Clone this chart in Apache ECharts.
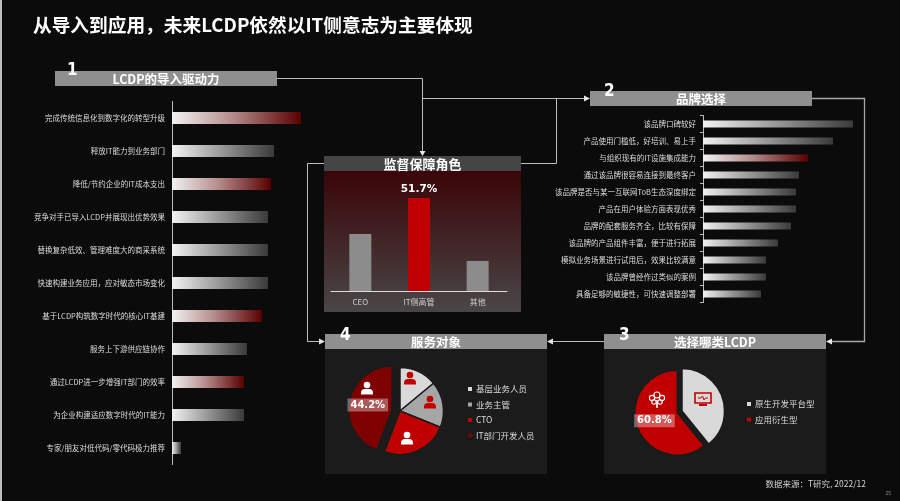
<!DOCTYPE html>
<html><head><meta charset="utf-8">
<script src="https://cdn.jsdelivr.net/npm/echarts@6/dist/echarts.min.js"></script>
<style>html,body{margin:0;padding:0;background:#0b0b0b;}#c{width:900px;height:501px;}</style>
</head><body><div id="c"></div>
<script>
const pageTitle = '从导入到应用，未来LCDP依然以IT侧意志为主要体现';
const sourceText = '数据来源：T研究, 2022/12';

const driverCats = ['完成传统信息化到数字化的转型升级','释放IT能力到业务部门','降低/节约企业的IT成本支出','竞争对手已导入LCDP并展现出优势效果','替换复杂低效、管理难度大的商采系统','快速构建业务应用，应对敏态市场变化','基于LCDP构筑数字时代的核心IT基建','服务上下游供应链协作','通过LCDP进一步增强IT部门的效率','为企业构建适应数字时代的IT能力','专家/朋友对低代码/零代码极力推荐'];
const driverValues = [64.5, 51, 49.5, 48, 48, 48, 45, 37.5, 36, 36, 4.5];
const driverHighlight = [0, 2, 6, 8];

const brandCats = ['该品牌口碑较好','产品使用门槛低，好培训、易上手','与组织现有的IT设施集成能力','通过该品牌很容易连接到最终客户','该品牌是否与某一互联网ToB生态深度绑定','产品在用户体验方面表现优秀','品牌的配套服务齐全，比较有保障','该品牌的产品组件丰富，便于进行拓展','模拟业务场景进行试用后，效果比较满意','该品牌曾经作过类似的案例','具备足够的敏捷性，可快速调整部署'];
const brandValues = [75, 65, 52.5, 48, 46.5, 46.5, 44, 37.5, 31.5, 31.5, 29];
const brandHighlight = [2];

const roleCats = ['CEO','IT侧高管','其他'];
const roleValues = [31.6, 51.7, 16.7];

const audienceNames = ['基层业务人员','业务主管','CTO','IT部门开发人员'];
const audienceValues = [14.0, 17.1, 24.7, 44.2];

const typeNames = ['原生开发平台型','应用衍生型'];
const typeValues = [39.2, 60.8];

const headers = ['LCDP的导入驱动力','品牌选择','选择哪类LCDP','服务对象','监督保障角色'];

const FONT = '"Noto Sans CJK SC","Microsoft YaHei",sans-serif';
const chart = echarts.init(document.getElementById('c'), null, {renderer:'canvas'});

function grad(red){
  return {type:'linear',x:0,y:0,x2:1,y2:0,colorStops: red ?
    [{offset:0,color:'#f2f2f2'},{offset:0.45,color:'#b89090'},{offset:1,color:'#5a0000'}] :
    [{offset:0,color:'#f2f2f2'},{offset:1,color:'#3a3a3a'}]};
}
function barData(vals, hl){
  return vals.map((v,i)=>({value:v,itemStyle:{color:grad(hl.includes(i))}}));
}

const G = [];
G.push({type:'rect',shape:{x:0,y:0,width:2,height:501},style:{fill:'#bdbdbd'}});
G.push({type:'text',x:33,y:25,style:{text:pageTitle,fill:'#fff',font:'bold 18.7px '+FONT,verticalAlign:'middle'}});
G.push({type:'rect',shape:{x:324,y:171,width:197,height:141},style:{fill:{type:'linear',x:0,y:0,x2:0,y2:1,colorStops:[{offset:0,color:'#3a0508'},{offset:1,color:'#4a4646'}]}}});
G.push({type:'rect',shape:{x:325,y:349,width:222,height:125},style:{fill:'#1b1b1b'}});
G.push({type:'rect',shape:{x:604,y:349,width:222,height:125},style:{fill:'#1b1b1b'}});
function header(x,y,w,text,fill,size){
  G.push({type:'rect',shape:{x:x,y:y,width:w,height:15},style:{fill:fill}});
  G.push({type:'text',x:x+w/2,y:y+8,style:{text:text,fill:'#fff',font:'bold '+size+'px '+FONT,align:'center',verticalAlign:'middle'}});
}
header(55,71,222,headers[0],'#8f8f8f',12.5);
header(590,91,222,headers[1],'#8f8f8f',12.5);
header(604,334,222,headers[2],'#8f8f8f',12.5);
header(325,334,222,headers[3],'#8f8f8f',12.5);
header(324,156,197,headers[4],'#454545',13);
function num(x,y,t){G.push({type:'text',x:x,y:y,z:10,style:{text:t,fill:'#fff',font:'bold 17px "Liberation Sans Narrow","DejaVu Sans Condensed",sans-serif',verticalAlign:'top'}});}
num(67,62,'1'); num(604,83,'2'); num(619,327,'3'); num(340,327,'4');
const LS = {stroke:'#bdbdbd',lineWidth:1,fill:null};
function pl(pts){G.push({type:'polyline',shape:{points:pts},style:LS});}
function arrow(pts){G.push({type:'polygon',shape:{points:pts},style:{fill:'#e6e6e6'}});}
pl([[277,78.5],[422.5,78.5],[422.5,151]]); arrow([[419.5,151],[425.5,151],[422.5,156]]);
pl([[422.5,98.5],[585,98.5]]); arrow([[584,95.5],[584,101.5],[590,98.5]]);
pl([[556.5,98.5],[556.5,163.5],[521,163.5]]);
pl([[324,163.5],[307.5,163.5],[307.5,341.5],[320,341.5]]); arrow([[319,338.5],[319,344.5],[325,341.5]]);
G.push({type:'polyline',shape:{points:[[812,98.5],[864.5,98.5],[864.5,341.5],[832,341.5]]},style:{stroke:'#a8a8a8',lineWidth:1.3,fill:null}});
arrow([[832,338.5],[832,344.5],[826,341.5]]);
pl([[604,341.5],[553,341.5]]); arrow([[553,338.5],[553,344.5],[547,341.5]]);
function person(cx,cy,color){
  G.push({type:'circle',z:100,shape:{cx:cx,cy:cy-3,r:3.3},style:{fill:color}});
  G.push({type:'rect',z:100,shape:{x:cx-6,y:cy+1,width:12,height:5.5,r:[4,4,0,0]},style:{fill:color}});
}
person(410,378,'#c00000'); person(430,402,'#c00000'); person(407,438,'#ffffff'); person(367,388,'#ffffff');
G.push({type:'rect',z:100,shape:{x:695,y:393,width:16,height:10},style:{fill:null,stroke:'#c00000',lineWidth:1.6}});
G.push({type:'polyline',z:100,shape:{points:[[698,398],[701,398],[702.5,396],[704,400],[705.5,398],[708,398]]},style:{fill:null,stroke:'#c00000',lineWidth:1}});
G.push({type:'rect',z:100,shape:{x:699,y:404,width:8,height:2},style:{fill:'#c00000'}});
[[657,395,3],[652,398,2.6],[662,398,2.6],[654,402,2.2],[660,402,2.2]].forEach(c=>G.push({type:'circle',z:100,shape:{cx:c[0],cy:c[1],r:c[2]},style:{fill:null,stroke:'#fff',lineWidth:1.1}}));
G.push({type:'rect',z:100,shape:{x:656.2,y:400,width:1.6,height:8},style:{fill:'#fff'}});
G.push({type:'text',x:866,y:484,style:{text:sourceText,fill:'#d0d0d0',font:'8.5px '+FONT,align:'right',verticalAlign:'middle'}});
G.push({type:'text',x:891,y:494,style:{text:'25',fill:'#888',font:'5px sans-serif',align:'right',verticalAlign:'middle'}});

const pieLabel = {show:true,position:'inside',formatter:p=>p.value+'%',color:'#fff',fontWeight:'bold',fontSize:10,fontFamily:'DejaVu Sans,sans-serif',backgroundColor:'rgba(255,255,255,0.35)',padding:[2,3,1,3]};

const option = {
  backgroundColor:'#0b0b0b',
  animation:false,
  textStyle:{fontFamily:FONT},
  graphic:{elements:G},
  grid:[
    {left:172,top:101.5,width:140,height:363},
    {left:703,top:115.5,width:160,height:187},
    {left:331,top:183,width:176,height:108}
  ],
  xAxis:[
    {gridIndex:0,type:'value',min:0,max:70,show:false},
    {gridIndex:1,type:'value',min:0,max:80,show:false},
    {gridIndex:2,type:'category',data:roleCats,axisLine:{lineStyle:{color:'#dddddd',width:1}},axisTick:{show:false},axisLabel:{color:'#d0d0d0',fontSize:8,margin:7}}
  ],
  yAxis:[
    {gridIndex:0,type:'category',data:driverCats,inverse:true,axisLine:{lineStyle:{color:'#bdbdbd'}},axisTick:{show:false},axisLabel:{color:'#dddddd',fontSize:7.5,margin:7}},
    {gridIndex:1,type:'category',data:brandCats,inverse:true,axisLine:{lineStyle:{color:'#bdbdbd'}},axisTick:{show:true,length:3,lineStyle:{color:'#bdbdbd'}},axisLabel:{color:'#dddddd',fontSize:7.5,margin:7}},
    {gridIndex:2,type:'value',min:0,max:60,show:false}
  ],
  legend:[
    {data:audienceNames,orient:'vertical',left:461,top:379,icon:'rect',itemWidth:6,itemHeight:6,itemGap:5.5,selectedMode:false,textStyle:{color:'#dddddd',fontSize:8.5,lineHeight:10,padding:[0,0,0,-2]}},
    {data:typeNames,orient:'vertical',left:740,top:394,icon:'rect',itemWidth:6,itemHeight:6,itemGap:5.5,selectedMode:false,textStyle:{color:'#dddddd',fontSize:8.5,lineHeight:10,padding:[0,0,0,-2]}}
  ],
  series:[
    {type:'bar',xAxisIndex:0,yAxisIndex:0,barWidth:12,data:barData(driverValues,driverHighlight),silent:true},
    {type:'bar',xAxisIndex:1,yAxisIndex:1,barWidth:7,data:barData(brandValues,brandHighlight),silent:true},
    {type:'bar',xAxisIndex:2,yAxisIndex:2,barWidth:22,silent:true,
      data:roleValues.map((v,i)=>({value:v,itemStyle:{color:i===1?'#c00000':'#8c8c8c'},
        label:{show:i===1,position:'top',distance:3,formatter:'{c}%',color:'#fff',fontWeight:'bold',fontSize:10.5,fontFamily:'DejaVu Sans,sans-serif'}}))},
    {type:'pie',center:[400,411],radius:43.5,startAngle:90,clockwise:true,selectedMode:'single',selectedOffset:8,silent:true,
      itemStyle:{borderColor:'#1b1b1b',borderWidth:1.5},label:{show:false},labelLine:{show:false},
      color:['#d9d9d9','#a6a6a6','#c00000','#7f0000'],
      data:audienceNames.map((n,i)=>({name:n,value:audienceValues[i],selected:i===3,label:i===3?pieLabel:{show:false}}))},
    {type:'pie',center:[682,411],radius:42.5,startAngle:90,clockwise:true,selectedMode:'single',selectedOffset:5,silent:true,
      itemStyle:{borderColor:'#1b1b1b',borderWidth:1.5},label:{show:false},labelLine:{show:false},
      color:['#d9d9d9','#c00000'],
      data:typeNames.map((n,i)=>({name:n,value:typeValues[i],selected:i===1,label:i===1?pieLabel:{show:false}}))}
  ]
};
chart.setOption(option);
</script></body></html>
